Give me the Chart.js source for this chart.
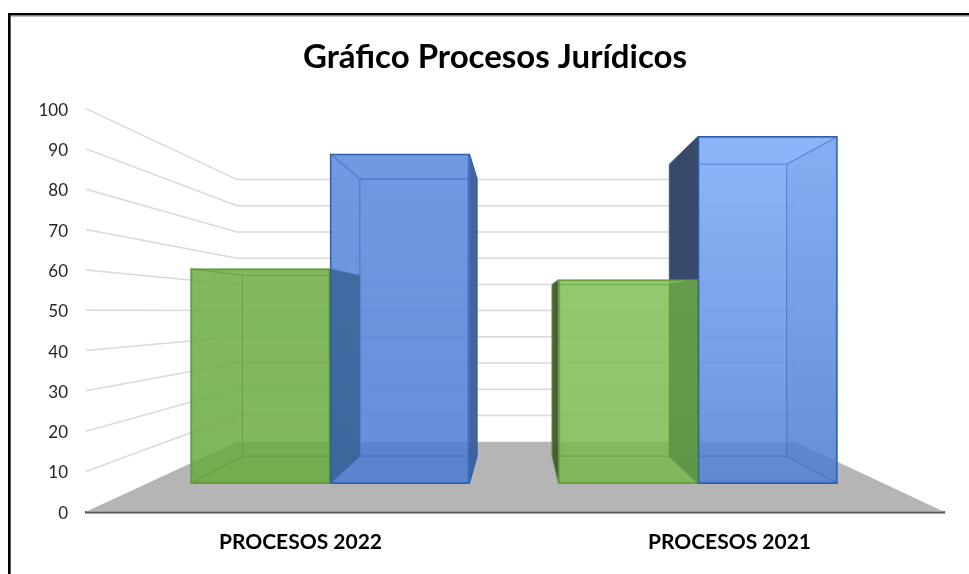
<!DOCTYPE html>
<html lang="es">
<head>
<meta charset="utf-8">
<title>Gráfico Procesos Jurídicos</title>
<script src="https://cdn.jsdelivr.net/npm/chart.js@4"></script>
<style>
html,body{margin:0;padding:0;background:#fff}
#wrap{position:absolute;left:0;top:0;width:969px;height:574px}
canvas{display:block}
</style>
</head>
<body>
<div id="wrap"><canvas id="c" width="969" height="574"></canvas></div>
<script>
// --- data ---
const categories = ['PROCESOS 2022', 'PROCESOS 2021'];
const titleText = 'Gráfico Procesos Jurídicos';
const greenValues = [60.3, 57.6];
const blueValues = [88.8, 93.1];
const barBase = 7;            // value at which the bars' front face stands on the floor
const yTicks = [0,10,20,30,40,50,60,70,80,90,100];

// --- styling ---
const FONT = 'Lato, Carlito, Calibri, sans-serif';
const ALPHA = 0.85;
const greenFront = [['rgba(112,176,72,A)','rgba(104,170,62,A)'], ['rgba(138,200,95,A)','rgba(118,182,76,A)']];
const blueFront  = [['rgba(88,138,222,A)','rgba(72,122,208,A)'], ['rgba(125,172,252,A)','rgba(78,125,208,A)']];
const edgeColors = ['#5f9a3d', '#2f5ead'];
const innerEdgeColors = ['rgba(95,150,60,.55)', 'rgba(60,105,190,.6)'];
const outerLeft  = ['rgba(62,92,42,.95)', 'rgba(45,62,98,.94)'];
const outerRight = ['rgba(55,95,40,.9)', 'rgba(58,92,150,.95)'];
const greenSideOverlay = ['rgba(35,75,110,.38)', 'rgba(40,90,30,.22)'];
const blueSideOverlay = 'rgba(50,90,170,.08)';

// --- 3D projection settings (fractions relative to the library's scales) ---
const vanishValue = 49.7;      // value on the y scale at the vanishing point
const vanishCenter = 0.503;    // fraction of the x axis length
const wallDepth = 0.65;        // projection factor of the back wall
const barDepth = 0.841;        // projection factor of the back of the bars

function barColor(set) {
  return set.replace('A', ALPHA);
}
function frontGradient(ctx, pair) {
  const area = ctx.chart.chartArea;
  if (!area) return barColor(pair[0]);
  const g = ctx.chart.ctx.createLinearGradient(0, area.top, 0, area.bottom);
  g.addColorStop(0, barColor(pair[0]));
  g.addColorStop(1, barColor(pair[1]));
  return g;
}
function vanish(chart) {
  const {x, y} = chart.scales;
  return {x: x.left + x.width * vanishCenter, y: y.getPixelForValue(vanishValue)};
}
function poly(c, pts, fill, stroke, lw) {
  c.beginPath();
  pts.forEach((p, i) => i ? c.lineTo(p[0], p[1]) : c.moveTo(p[0], p[1]));
  c.closePath();
  if (fill) { c.fillStyle = fill; c.fill(); }
  if (stroke) { c.strokeStyle = stroke; c.lineWidth = lw || 1; c.stroke(); }
}
function boxGeometry(chart, dsIndex, i) {
  const bar = chart.getDatasetMeta(dsIndex).data[i];
  const p = bar.getProps(['x','y','base','width'], false);
  const v = vanish(chart);
  const px = a => v.x + (a - v.x) * barDepth;
  const py = a => v.y + (a - v.y) * barDepth;
  const L = p.x - p.width / 2, R = p.x + p.width / 2, T = p.y, B = p.base;
  return {L, R, T, B, bL: px(L), bR: px(R), bT: py(T), bB: py(B)};
}

const scene3d = {
  id: 'scene3d',
  afterLayout(chart) {
    // the title sits a little right of the padded chart box
    const t = chart.titleBlock;
    if (t) { t.left += 8; t.right += 8; }
  },
  beforeDatasetsDraw(chart) {
    const c = chart.ctx, {x, y} = chart.scales, v = vanish(chart);
    const wx = a => v.x + (a - v.x) * wallDepth;
    const wy = a => v.y + (a - v.y) * wallDepth;
    const xl = x.left, xr = x.right, y0 = y.getPixelForValue(0);
    c.save();
    // floor
    poly(c, [[xl,y0],[wx(xl),wy(y0)],[wx(xr),wy(y0)],[xr,y0]], '#b5b5b5');
    // gridlines: side wall and back wall
    c.strokeStyle = '#d9d9d9'; c.lineWidth = 1.5;
    yTicks.slice(1).forEach(t => {
      const py = y.getPixelForValue(t);
      c.beginPath();
      c.moveTo(xl, py); c.lineTo(wx(xl), wy(py)); c.lineTo(wx(xr), wy(py));
      c.stroke();
    });
    // bar boxes: parts lying behind the front faces
    [1, 0].forEach(ds => categories.forEach((_, i) => {
      const g = boxGeometry(chart, ds, i);
      if (g.bL < g.L) poly(c, [[g.L,g.T],[g.bL,g.bT],[g.bL,g.bB],[g.L,g.B]], outerLeft[ds]);
      if (g.bR > g.R) poly(c, [[g.R,g.T],[g.bR,g.bT],[g.bR,g.bB],[g.R,g.B]], outerRight[ds]);
      if (g.bL < g.L) { c.strokeStyle = edgeColors[ds]; c.lineWidth = 1; c.beginPath(); c.moveTo(g.L,g.T); c.lineTo(g.bL,g.bT); c.lineTo(g.bL,g.bB); c.lineTo(g.L,g.B); c.stroke(); }
      if (g.bR > g.R) { c.strokeStyle = edgeColors[ds]; c.lineWidth = 1; c.beginPath(); c.moveTo(g.R,g.T); c.lineTo(g.bR,g.bT); c.lineTo(g.bR,g.bB); c.lineTo(g.R,g.B); c.stroke(); }
    }));
    c.restore();
  },
  afterDatasetsDraw(chart) {
    const c = chart.ctx;
    c.save();
    [0, 1].forEach(ds => categories.forEach((_, i) => {
      const g = boxGeometry(chart, ds, i);
      // side of the box seen through the front face
      if (ds === 0) poly(c, [[g.R,g.T],[g.bR,g.bT],[g.bR,g.bB],[g.R,g.B]], greenSideOverlay[i]);
      if (ds === 1 && g.bR < g.R) poly(c, [[g.R,g.T],[g.bR,g.bT],[g.bR,g.bB],[g.R,g.B]], blueSideOverlay);
      // inner edges: back rectangle and the corner lines
      c.strokeStyle = innerEdgeColors[ds]; c.lineWidth = 1.2;
      const l = Math.max(g.bL, g.L), r = Math.min(g.bR, g.R);
      c.beginPath();
      c.moveTo(l, g.bT); c.lineTo(r, g.bT);
      c.moveTo(l, g.bB); c.lineTo(r, g.bB);
      if (g.bL >= g.L) { c.moveTo(g.bL, g.bT); c.lineTo(g.bL, g.bB); c.moveTo(g.L, g.T); c.lineTo(g.bL, g.bT); c.moveTo(g.L, g.B); c.lineTo(g.bL, g.bB); }
      if (g.bR <= g.R) { c.moveTo(g.bR, g.bT); c.lineTo(g.bR, g.bB); c.moveTo(g.R, g.T); c.lineTo(g.bR, g.bT); c.moveTo(g.R, g.B); c.lineTo(g.bR, g.bB); }
      c.stroke();
    }));
    c.restore();
  }
};

const frame = {
  id: 'frame',
  beforeDraw(chart) {
    const c = chart.ctx;
    c.save();
    c.fillStyle = '#fff';
    c.fillRect(0, 0, chart.width, chart.height);
    c.fillStyle = '#bdbdbd';
    c.fillRect(10, 16, 1, chart.height);
    c.fillRect(10, 16, chart.width, 1);
    c.fillStyle = '#000';
    c.fillRect(8, 13, 2.5, chart.height);
    c.fillRect(8, 13, chart.width, 2.5);
    c.restore();
  }
};

new Chart(document.getElementById('c'), {
  type: 'bar',
  data: {
    labels: categories,
    datasets: [
      { label: 'Verde', xAxisID: 'xBars', yAxisID: 'y',
        data: greenValues.map((v, i) => ({x: i, y: [barBase, v]})),
        backgroundColor: ctx => frontGradient(ctx, greenFront[ctx.dataIndex] || greenFront[0]),
        borderColor: edgeColors[0], borderWidth: 1.5, borderSkipped: false },
      { label: 'Azul', xAxisID: 'xBars', yAxisID: 'y',
        data: blueValues.map((v, i) => ({x: i, y: [barBase, v]})),
        backgroundColor: ctx => frontGradient(ctx, blueFront[ctx.dataIndex] || blueFront[0]),
        borderColor: edgeColors[1], borderWidth: 1.5, borderSkipped: false }
    ]
  },
  options: {
    responsive: false,
    animation: false,
    devicePixelRatio: 1,
    layout: {padding: {left: 30, right: 25, top: 38, bottom: 1}},
    datasets: {bar: {barThickness: 139.5}},
    plugins: {
      legend: {display: false},
      tooltip: {enabled: false},
      title: {
        display: true, text: titleText, color: '#000',
        font: {family: FONT, size: 33, weight: 'bold'},
        padding: {top: 0, bottom: 31}
      }
    },
    scales: {
      x: {
        type: 'category', position: 'bottom', offset: true,
        grid: {display: false, drawTicks: false},
        border: {display: true, color: '#595959', width: 2.5},
        ticks: {color: '#000', padding: 18, font: {family: FONT, size: 21, weight: 'bold'}, maxRotation: 0}
      },
      xBars: {
        type: 'linear', display: false, position: 'bottom', offset: false,
        min: (86 - 330) / 368, max: (944 - 330) / 368
      },
      y: {
        min: 0, max: 100,
        grid: {display: false, drawTicks: false},
        border: {display: false},
        afterFit: s => { s.width = 56; },
        ticks: {stepSize: 10, color: '#262626', padding: 18, labelOffset: 1.5, font: {family: FONT, size: 17}}
      }
    }
  },
  plugins: [frame, scene3d]
});
</script>
</body>
</html>
